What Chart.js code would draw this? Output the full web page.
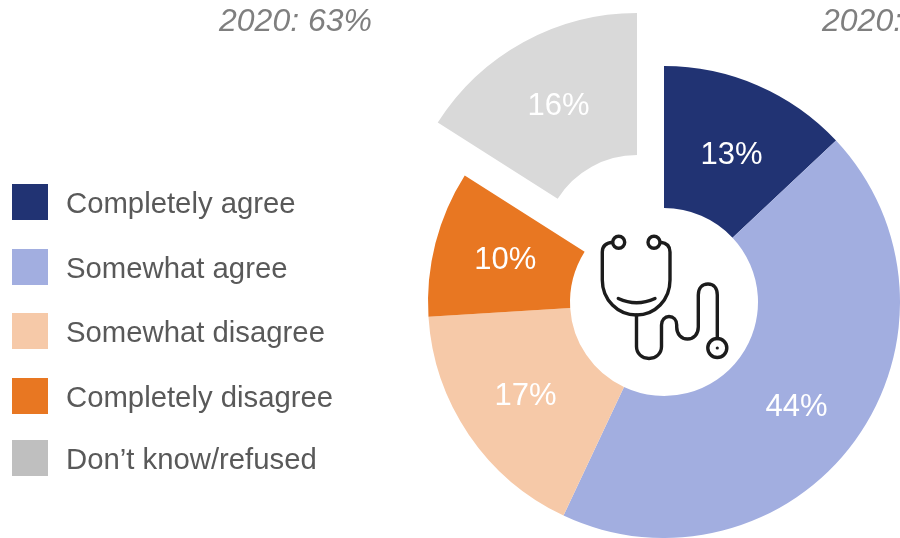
<!DOCTYPE html>
<html lang="en">
<head>
<meta charset="utf-8">
<title>Survey responses</title>
<script src="https://cdn.jsdelivr.net/npm/chart.js@4/dist/chart.umd.min.js"></script>
<style>
  html, body { margin: 0; padding: 0; background: #fff; }
  #stage { position: relative; width: 900px; height: 538px; overflow: hidden;
           font-family: "Liberation Sans", Arial, sans-serif; }
  #chart { position: absolute; left: 0; top: 0; }
  .note { position: absolute; top: 2px; font-size: 32px; line-height: 36px; font-style: italic;
          color: #7f7f7f; white-space: nowrap; }
  .key { position: absolute; left: 12px; width: 36px; height: 36px; }
  .key-text { position: absolute; left: 66px; font-size: 29.3px; line-height: 38px;
              color: #595959; white-space: nowrap; }
  #icon { position: absolute; left: 0; top: 0; pointer-events: none; }
</style>
</head>
<body>
<div id="stage">
  <canvas id="chart" width="900" height="538"></canvas>
  <div class="note" style="left:219px">2020: 63%</div>
  <div class="note" style="left:822px">2020:</div>
  <div id="legend"></div>
  <!-- stethoscope in the hole of the ring -->
  <svg id="icon" width="900" height="538" fill="none" stroke="#1c1c1c" stroke-width="3.4" stroke-linecap="round" stroke-linejoin="round">
    <circle cx="618.7" cy="242.3" r="6"/>
    <circle cx="654" cy="242.3" r="6"/>
    <path d="M612.5 242.3 C606 243 602.3 246 602.3 252 V280 C602.3 300 618 315 636.5 315 C655 315 670 300 670 280 V252 C670 246 667 243 660.5 242.3"/>
    <path d="M618.3 298.5 Q636.5 307 655 298.5"/>
    <path d="M636.5 315 V346.5 C636.5 353.5 642 358.5 649 358.5 C656 358.5 661.5 353.5 661.5 346.5 V325 C661.5 320 665 316.5 669 316.5 C673.5 316.5 676.7 320 676.7 325 V327 C676.7 334 681 339 687.5 339 C694 339 698.3 334 698.3 327 V295 C698.3 288.5 702 284 708 284 C714 284 717.3 288.5 717.3 295 V338.5"/>
    <circle cx="717.3" cy="348" r="9.5"/>
    <circle cx="717.3" cy="348" r="1.6" fill="#1c1c1c" stroke="none"/>
  </svg>
</div>
<script>
  // Survey answers, in percent
  const categories = ['Completely agree', 'Somewhat agree', 'Somewhat disagree', 'Completely disagree', 'Don\u2019t know/refused'];
  const shares = [13, 44, 17, 10, 16];

  const sliceColors = ['#213373', '#a2aee0', '#f6c9a8', '#e87722', '#d9d9d9'];
  const keyColors = ['#213373', '#a2aee0', '#f6c9a8', '#e87722', '#bfbfbf'];
  const keyRows = [184, 249, 313, 378, 440];

  // The refused slice is pulled away from the ring by this shift
  const pulledSlice = 4;
  const pullShift = { x: -27, y: -53 };

  // Small hand adjustments to where each share is written
  const labelNudge = [[2, 4], [-1, 7], [-2, 1], [1, -2], [1, 1]];

  // Moves one slice out of the ring, keeping its radius unchanged
  const pullOut = {
    id: 'pullOut',
    afterDatasetsUpdate(chart) {
      const arc = chart.getDatasetMeta(0).data[pulledSlice];
      arc.x += pullShift.x;
      arc.y += pullShift.y;
    }
  };

  // Writes each share in the middle of its slice
  const sliceLabels = {
    id: 'sliceLabels',
    afterDatasetsDraw(chart) {
      const { ctx } = chart;
      ctx.save();
      ctx.font = '31px "Liberation Sans", Arial, sans-serif';
      ctx.fillStyle = '#ffffff';
      ctx.textAlign = 'center';
      ctx.textBaseline = 'middle';
      chart.getDatasetMeta(0).data.forEach((arc, i) => {
        const p = arc.getCenterPoint();
        ctx.fillText(shares[i] + '%', p.x + labelNudge[i][0], p.y + 1 + labelNudge[i][1]);
      });
      ctx.restore();
    }
  };

  // Legend built as HTML so it can sit apart from the ring
  const htmlLegend = {
    id: 'htmlLegend',
    afterUpdate(chart) {
      const box = document.getElementById('legend');
      box.innerHTML = '';
      chart.data.labels.forEach((label, i) => {
        const swatch = document.createElement('div');
        swatch.className = 'key';
        swatch.style.top = keyRows[i] + 'px';
        swatch.style.background = keyColors[i];
        const text = document.createElement('div');
        text.className = 'key-text';
        text.style.top = keyRows[i] + 'px';
        text.textContent = label;
        box.append(swatch, text);
      });
    }
  };

  new Chart(document.getElementById('chart'), {
    type: 'doughnut',
    data: {
      labels: categories,
      datasets: [{
        data: shares,
        backgroundColor: sliceColors,
        borderWidth: 0,
        clip: false
      }]
    },
    plugins: [pullOut, sliceLabels, htmlLegend],
    options: {
      responsive: false,
      animation: false,
      radius: 236,
      cutout: 94,
      layout: { padding: { left: 428, top: 66, right: 0, bottom: 0 } },
      plugins: { legend: { display: false }, tooltip: { enabled: false } }
    }
  });
</script>
</body>
</html>
